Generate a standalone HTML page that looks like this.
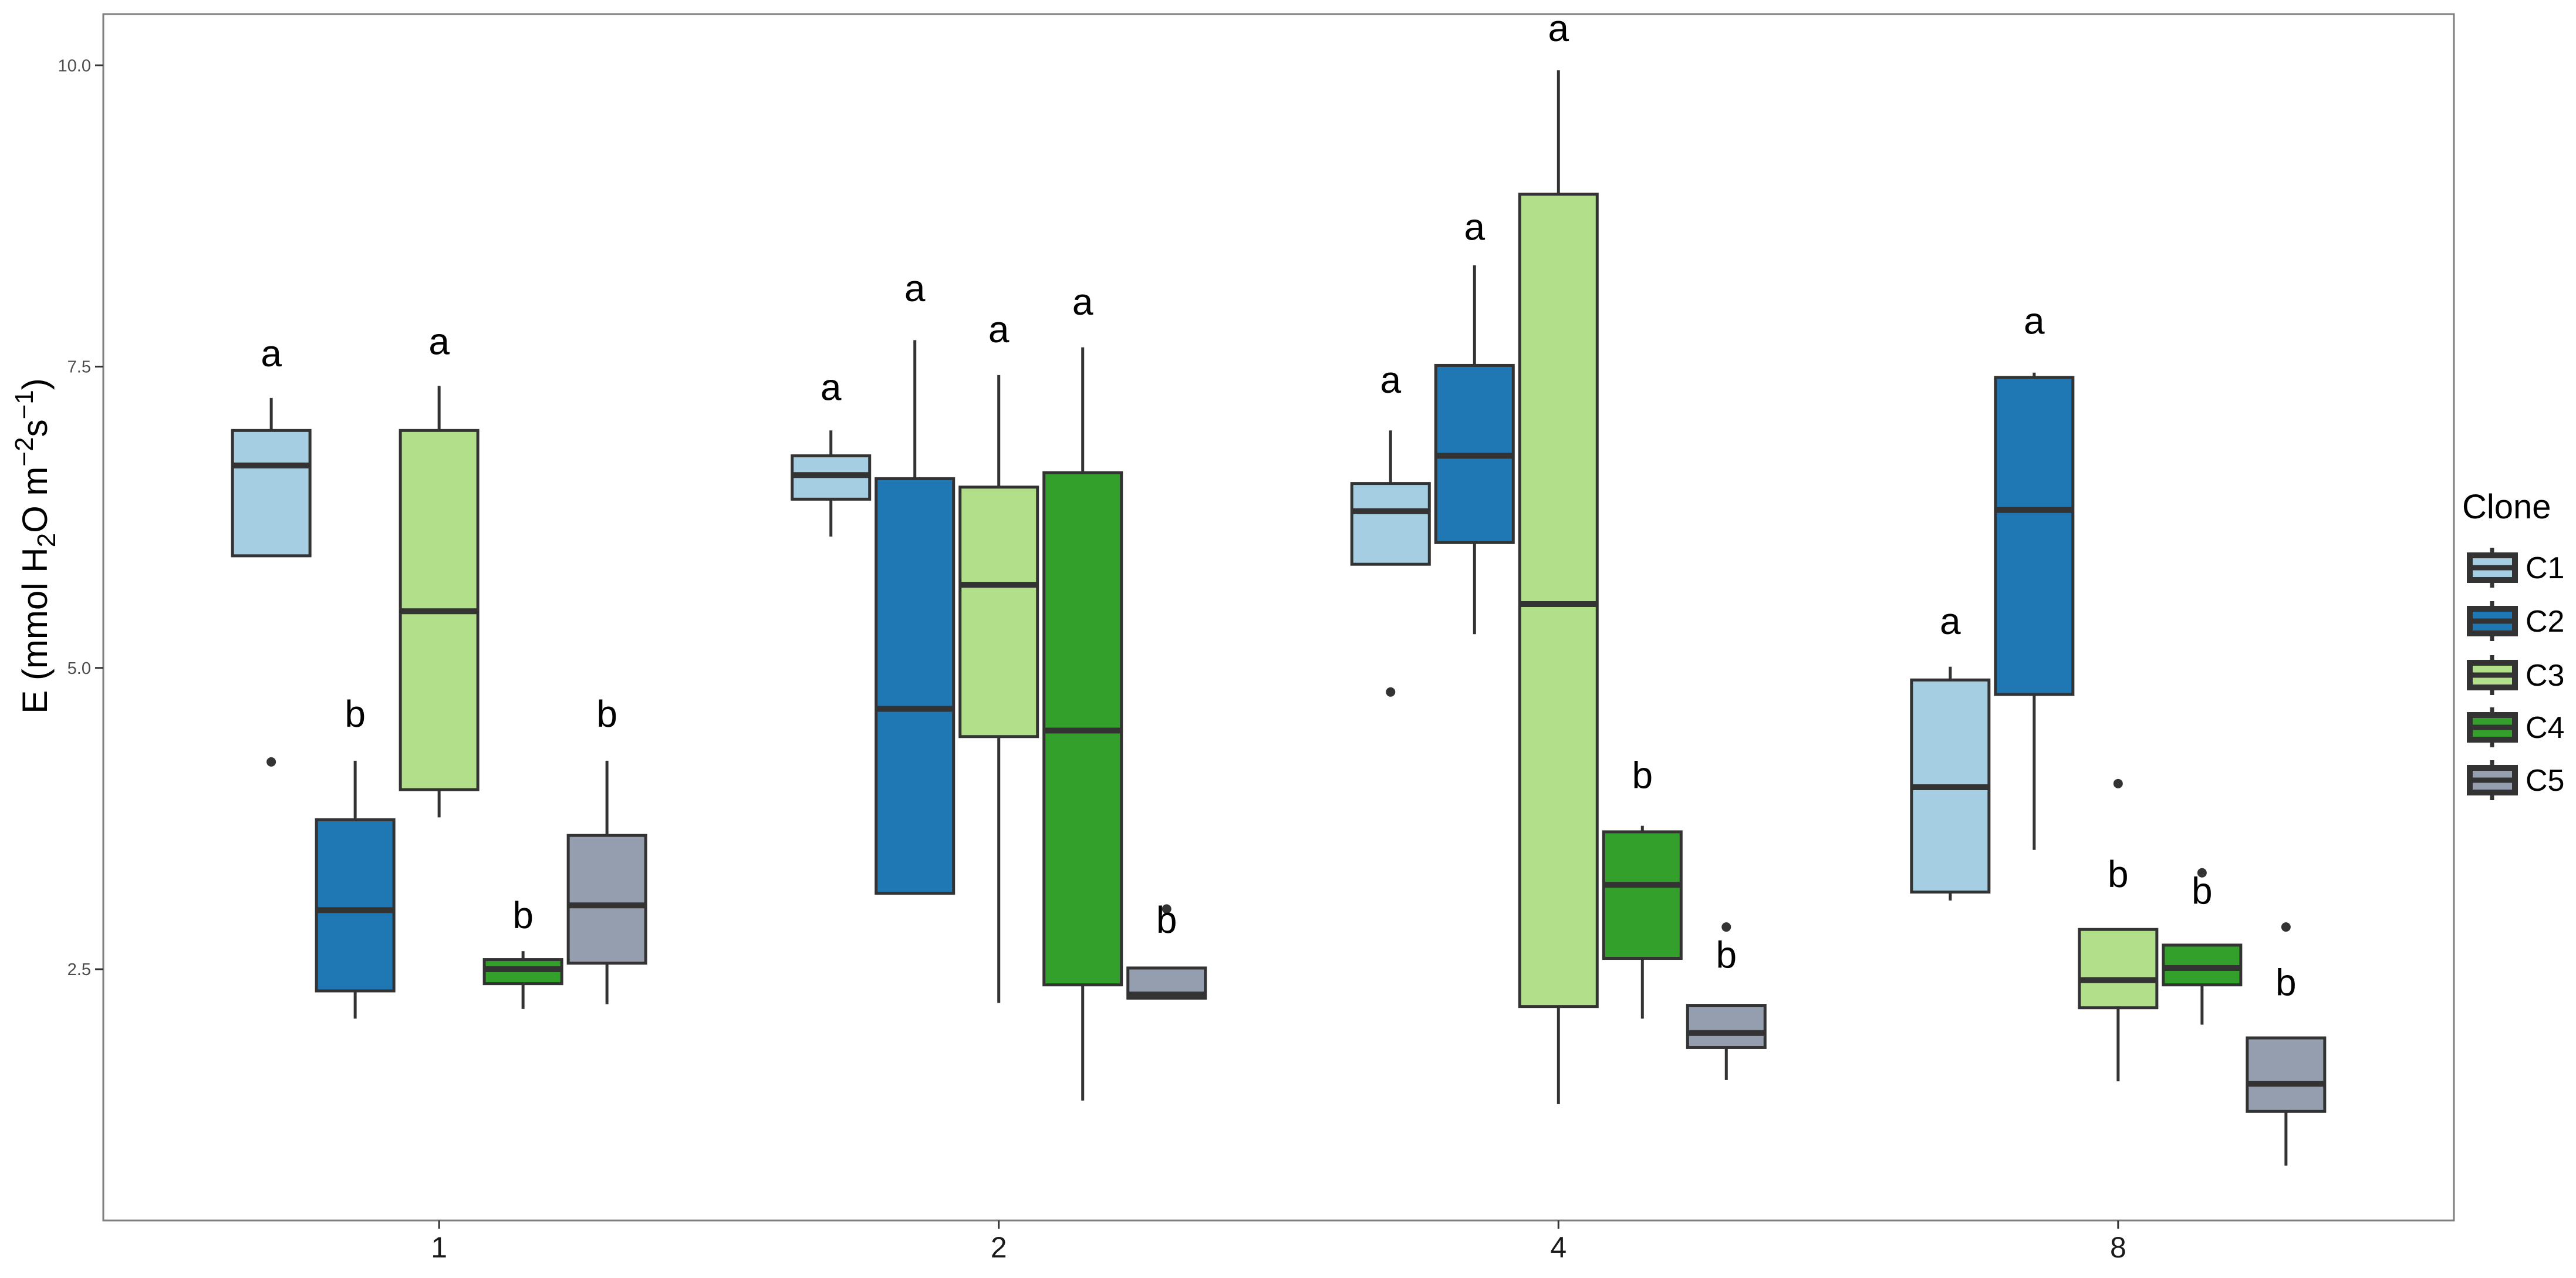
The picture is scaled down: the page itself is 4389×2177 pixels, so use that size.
<!DOCTYPE html>
<html><head><meta charset="utf-8"><style>
html,body{margin:0;padding:0;background:#fff;}
svg{display:block;font-family:"Liberation Sans",sans-serif;}
</style></head><body>
<svg id="chart" width="4389" height="2177" viewBox="0 0 4389 2177" xmlns="http://www.w3.org/2000/svg">
<rect x="0" y="0" width="4389" height="2177" fill="#fff"/>
<g id="plot"></g>
<rect x="176" y="24" width="4005" height="2055" fill="none" stroke="#7f7f7f" stroke-width="3"/>
<text transform="translate(80,930) rotate(-90)" text-anchor="middle" font-size="60" fill="#000">E (mmol H<tspan font-size="44" dy="14">2</tspan><tspan dy="-14">O m</tspan><tspan font-size="44" dy="-24">−2</tspan><tspan font-size="60" dy="24">s</tspan><tspan font-size="44" dy="-24">−1</tspan><tspan dy="24">)</tspan></text>
<g>
<text x="4195" y="883" font-size="58" fill="#000">Clone</text>
<g id="legend-keys"></g>
</g>
</svg>
<script>
const categories = ["1","2","4","8"];
const clones = ["C1","C2","C3","C4","C5"];
const colors = ["#a6cee3","#1f78b4","#b2df8a","#33a02c","#949eae"];
const yTicks = [2.5,5.0,7.5,10.0];
const yTickLabels = ["2.5","5.0","7.5","10.0"];
// per category, per clone: [lowWhisker, Q1, median, Q3, highWhisker]
const stats1 = [[5.93,5.93,6.68,6.97,7.24],[2.09,2.32,2.99,3.74,4.23],[3.76,3.99,5.47,6.97,7.34],[2.17,2.38,2.50,2.58,2.65],[2.21,2.55,3.03,3.61,4.23]];
const stats2 = [[6.09,6.40,6.60,6.76,6.97],[3.13,3.13,4.66,6.57,7.72],[2.22,4.43,5.69,6.50,7.43],[1.41,2.37,4.48,6.62,7.66],[2.26,2.26,2.29,2.51,2.51]];
const stats4 = [[5.86,5.86,6.30,6.53,6.97],[5.28,6.04,6.76,7.51,8.34],[1.38,2.19,5.53,8.93,9.96],[2.09,2.59,3.20,3.64,3.69],[1.58,1.85,1.97,2.20,2.20]];
const stats8 = [[3.07,3.14,4.01,4.90,5.01],[3.49,4.78,6.31,7.41,7.45],[1.57,2.18,2.41,2.83,2.83],[2.04,2.37,2.51,2.70,2.70],[0.87,1.32,1.55,1.93,1.93]];
const outliers1 = [[4.22],[],[],[],[]];
const outliers2 = [[],[],[],[],[3.0]];
const outliers4 = [[4.80],[],[],[],[2.85]];
const outliers8 = [[],[],[4.04],[3.30],[2.85]];
const letters1 = ["a","b","a","b","b"];
const letters2 = ["a","a","a","a","b"];
const letters4 = ["a","a","a","b","b"];
const letters8 = ["a","a","b","b","b"];
const letterY1 = [7.58,4.59,7.68,2.92,4.59];
const letterY2 = [7.30,8.12,7.78,8.01,2.88];
const letterY4 = [7.36,8.63,10.28,4.08,2.59];
const letterY8 = [5.36,7.85,3.26,3.12,2.36];

const allStats=[stats1,stats2,stats4,stats8];
const allOut=[outliers1,outliers2,outliers4,outliers8];
const allLet=[letters1,letters2,letters4,letters8];
const allLetY=[letterY1,letterY2,letterY4,letterY8];

const NS="http://www.w3.org/2000/svg";
const panelL=176, panelR=4181;
const catStep=(panelR-panelL)/4.2;
function xCat(i){return panelL+(i+0.6)*catStep;}
const slot=143, boxW=132;
function xBox(i,j){return xCat(i)+(j-2)*slot;}
function y(v){return 1651-(v-2.5)*205.3;}
function el(tag,attrs,parent){const e=document.createElementNS(NS,tag);for(const k in attrs)e.setAttribute(k,attrs[k]);parent.appendChild(e);return e;}
const svg=document.getElementById('chart');
const plot=document.getElementById('plot');

yTicks.forEach((t,k)=>{
  const ln=el('line',{x1:162,x2:176,y1:y(t),y2:y(t),stroke:'#333','stroke-width':3},svg);
  
  
  const tx=el('text',{x:155,y:y(t)+10,'text-anchor':'end','font-size':29,fill:'#4d4d4d'},svg);
  tx.textContent=yTickLabels[k];
  
  
});
categories.forEach((c,i)=>{
  const ln=el('line',{x1:xCat(i),x2:xCat(i),y1:2079,y2:2093,stroke:'#333','stroke-width':3},svg);
  
  
  const tx=el('text',{x:xCat(i),y:2142,'text-anchor':'middle','font-size':50,fill:'#1a1a1a'},svg);
  tx.textContent=c;
  
  
});
allStats.forEach((grp,i)=>{
  grp.forEach((s,j)=>{
    const cx=xBox(i,j);
    const g=el('g',{},plot);
    
    
    el('line',{x1:cx,x2:cx,y1:y(s[3]),y2:y(s[4]),stroke:'#333','stroke-width':5},g);
    el('line',{x1:cx,x2:cx,y1:y(s[1]),y2:y(s[0]),stroke:'#333','stroke-width':5},g);
    el('rect',{x:cx-boxW/2,y:y(s[3]),width:boxW,height:Math.max(1,y(s[1])-y(s[3])),fill:colors[j],stroke:'#333','stroke-width':5},g);
    el('line',{x1:cx-boxW/2,x2:cx+boxW/2,y1:y(s[2]),y2:y(s[2]),stroke:'#333','stroke-width':10},g);
    allOut[i][j].forEach(o=>{
      const c=el('circle',{cx:cx,cy:y(o),r:8,fill:'#333'},g);
      
      
    });
    const t=el('text',{x:cx,y:y(allLetY[i][j])+16,'text-anchor':'middle','font-size':64,fill:'#000'},g);
    t.textContent=allLet[i][j];
    
    
  });
});
const lk=document.getElementById('legend-keys');
const legY=[967,1058,1150,1239,1329];
clones.forEach((c,j)=>{
  const g=el('g',{},lk);
  
  
  const cy=legY[j];
  el('line',{x1:4246,x2:4246,y1:cy-34,y2:cy+34,stroke:'#333','stroke-width':7},g);
  el('rect',{x:4208,y:cy-21,width:77,height:42,fill:colors[j],stroke:'#333','stroke-width':10},g);
  el('line',{x1:4208,x2:4285,y1:cy,y2:cy,stroke:'#333','stroke-width':9},g);
  const t=el('text',{x:4303,y:cy+18,'font-size':52,fill:'#000'},g);
  t.textContent=c;
});
</script>
</body></html>
